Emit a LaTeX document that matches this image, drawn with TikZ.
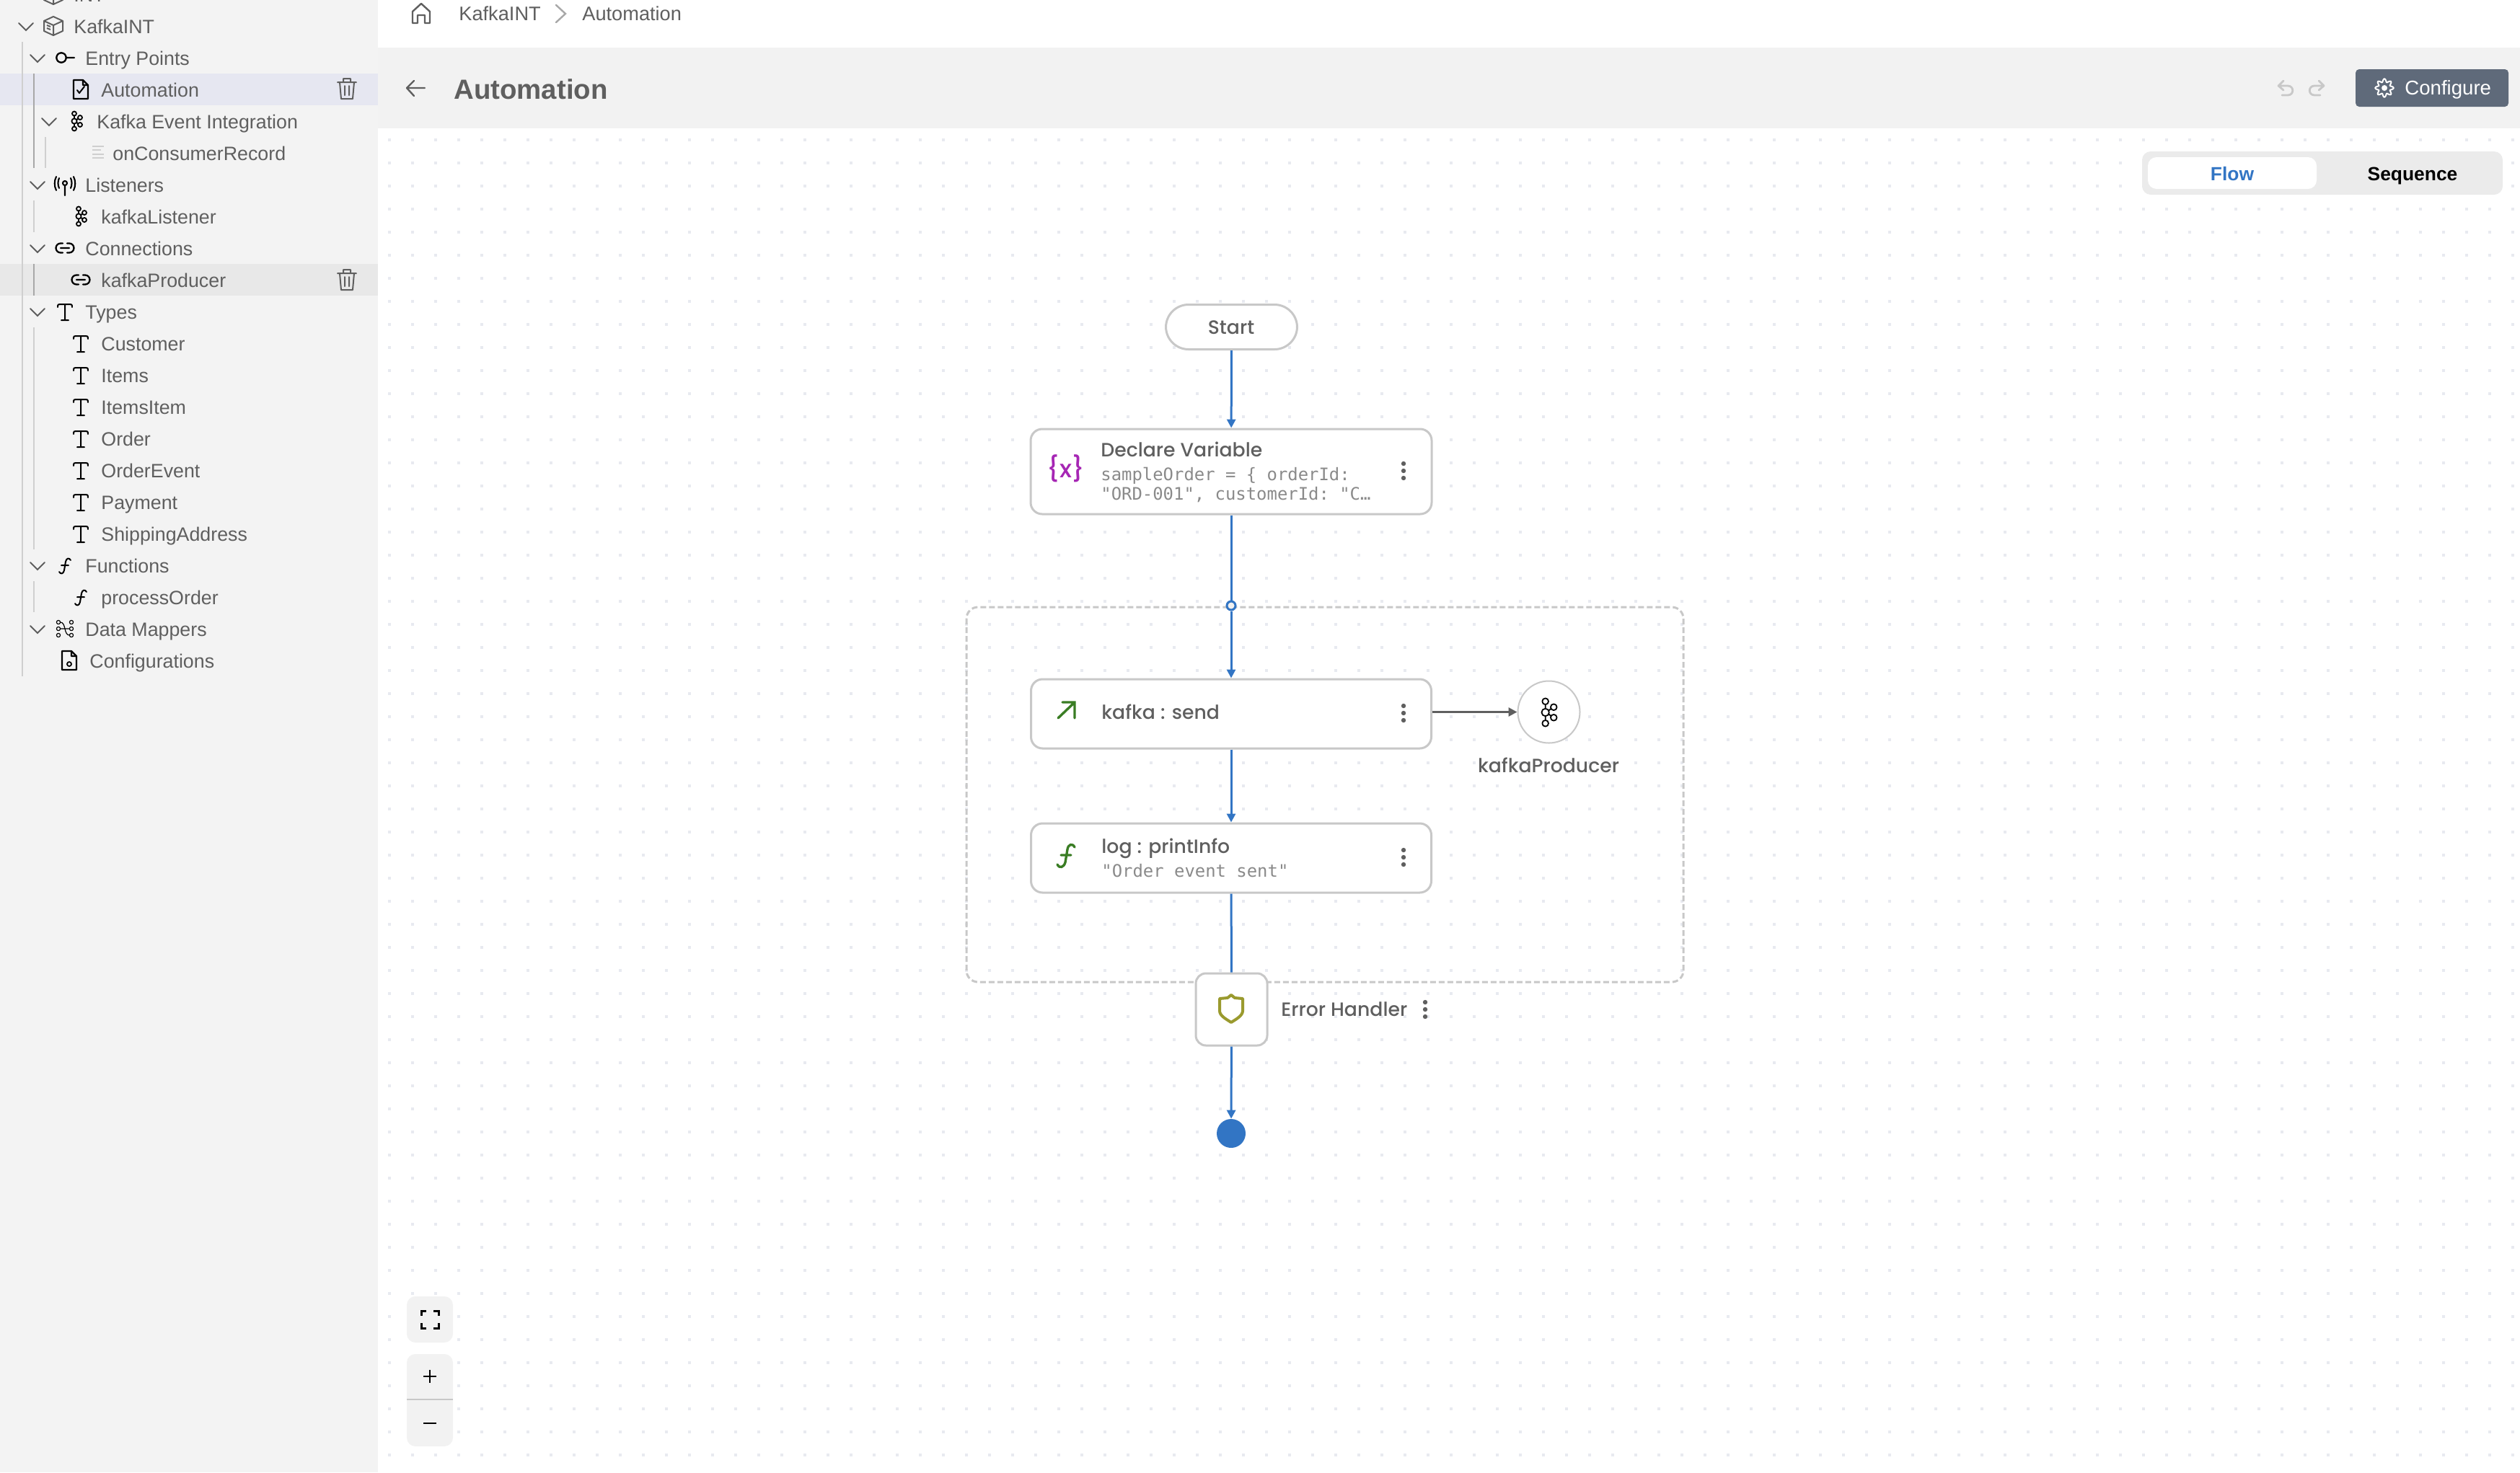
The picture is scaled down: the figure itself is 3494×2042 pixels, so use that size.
\documentclass[tikz,border=0pt]{standalone}
\usepackage{fontspec}
\setmainfont{Liberation Sans}
\setmonofont{DejaVu Sans Mono}
\newfontfamily\nodefont{Poppins}[UprightFont={* Medium}]
\usetikzlibrary{arrows.meta}
\definecolor{sidebg}{HTML}{F3F3F3}
\definecolor{bandbg}{HTML}{F2F2F2}
\definecolor{selrow}{HTML}{E6E7F1}
\definecolor{hovrow}{HTML}{E8E8E8}
\definecolor{guide}{HTML}{CFCFCF}
\definecolor{guidedark}{HTML}{A8A8A8}
\definecolor{txt}{HTML}{5F5F5F}
\definecolor{border}{HTML}{C8C8C8}
\definecolor{flowblue}{HTML}{3275C4}
\definecolor{dotc}{HTML}{E8EAF0}
\definecolor{slate}{HTML}{5F6A7A}
\definecolor{monoc}{HTML}{8A8A8A}
\definecolor{varpurple}{HTML}{A626B4}
\definecolor{fngreen}{HTML}{3A7D24}
\definecolor{shieldc}{HTML}{9A9A2E}
\tikzset{
  x=0.5pt,y=-0.5pt,
  sidetxt/.style={anchor=base west,inner sep=0pt,text=txt,font=\fontsize{13.4pt}{16pt}\selectfont},
  crumb/.style={anchor=base west,inner sep=0pt,text=txt,font=\fontsize{13.6pt}{16pt}\selectfont},
  nodetitle/.style={anchor=base west,inner sep=0pt,text=txt,font=\nodefont\fontsize{13.35pt}{16pt}\selectfont},
  monotxt/.style={anchor=base west,inner sep=0pt,text=monoc,font=\ttfamily\fontsize{11.95pt}{14pt}\selectfont},
  boxnode/.style={draw=border,fill=white,line width=1.5pt,rounded corners=8pt,inner sep=0pt,minimum width=277.5pt,minimum height=48pt},
  ic/.style={draw=black,line width=1.15pt,line cap=round,line join=round},
  chev/.style={draw=txt,line width=1pt,line cap=round},
  flowline/.style={draw=flowblue,line width=1.5pt},
  flowarrow/.style={flowline,-{Triangle[length=6pt,width=6pt]}},
  dotrow/.style={draw=dotc,line width=2pt,dash pattern=on 2pt off 14pt},
  kebab/.pic={\fill[txt] (0,-10) circle[radius=3.2] (0,0) circle[radius=3.2] (0,10) circle[radius=3.2];},
  chevicon/.pic={\draw[chev] (-10,-5) -- (0,5) -- (10,-5);},
  cubeicon/.pic={\draw[draw=txt,line width=1pt,line join=round] (0,-13) -- (13,-7) -- (13,7) -- (0,13) -- (-13,7) -- (-13,-7) -- cycle (-13,-7) -- (0,-1) -- (13,-7) (0,-1) -- (0,13) (-9,-1) -- (-4,1) (-9,3) -- (-4,5);},
  keyicon/.pic={\draw[ic] (-6,0) circle[radius=6.7] (1,0) -- (12,0);},
  fileicon/.pic={\draw[ic] (-9,-13) -- (3,-13) -- (10,-6) -- (10,13) -- (-10,13) -- (-10,-13) -- cycle (3,-13) -- (3,-6) -- (10,-6);},
  kafkaicon/.pic={\draw[ic,line width=0.9pt] (-3,-10.5) circle[radius=3] (-3,0) circle[radius=3.6] (-3,10.5) circle[radius=3] (5,-5) circle[radius=3] (5,5) circle[radius=3] (-3,-7.5) -- (-3,-3.6) (-3,3.6) -- (-3,7.5) (0.2,-1.6) -- (2.4,-3.6) (0.2,1.6) -- (2.4,3.6);},
  linesicon/.pic={\draw[draw=guide,line width=1pt] (-8,-8) -- (8,-8) (-8,-3) -- (4,-3) (-8,3) -- (8,3) (-8,8) -- (8,8);},
  antennaicon/.pic={\draw[ic,line width=1.05pt] (0,-3) circle[radius=3] (0,0) -- (0,14) (-8,-10) .. controls (-10,-6) and (-10,0) .. (-8,4) (8,-10) .. controls (10,-6) and (10,0) .. (8,4) (-12,-12) .. controls (-15,-6) and (-15,1) .. (-12,7) (12,-12) .. controls (15,-6) and (15,1) .. (12,7);},
  linkicon/.pic={\draw[ic] (-3,6.5) -- (-6,6.5) arc[start angle=90,end angle=270,radius=6.5] -- (-3,-6.5) (3,6.5) -- (6,6.5) arc[start angle=90,end angle=-90,radius=6.5] -- (3,-6.5) (-6,0) -- (6,0);},
  ticon/.pic={\draw[ic,line width=1pt] (-10,-6) .. controls (-10,-10) and (-9,-10) .. (-7,-10) -- (7,-10) .. controls (9,-10) and (10,-10) .. (10,-6) (0,-10) -- (0,12) (-5,12) -- (5,12);},
  fnicon/.pic={\draw[ic,line width=1pt] (-8,8) .. controls (-6,12) and (-2,11) .. (-1,6) -- (1,-6) .. controls (2,-11) and (6,-12) .. (8,-8) (-5,-1) -- (5,-1);},
  mapicon/.pic={\draw[ic,line width=0.6pt] (-9,-9) circle[radius=2.6] (-9,0) circle[radius=2.6] (-9,9) circle[radius=2.6] (9,-9) circle[radius=2.6] (9,0) circle[radius=2.6] (9,9) circle[radius=2.6] (-6.4,-9) .. controls (2,-9) and (-2,9) .. (6.4,9) (-6.4,0) -- (6.4,0);},
  trashicon/.pic={\draw[draw=txt,line width=1pt,line join=round,line cap=round] (-13,-9) -- (13,-9) (-5,-9) -- (-5,-14) -- (5,-14) -- (5,-9) (-10,-9) -- (-8,14) -- (8,14) -- (10,-9) (-3,-4) -- (-3,9) (3,-4) -- (3,9);}
}
\newcommand{\rowtext}[4]{\node[sidetxt] (#1) at (#2-1,#3+9) {#4};}
\begin{document}
\begin{tikzpicture}
\useasboundingbox (0,0) rectangle (3494,2042);
\clip (0,0) rectangle (3494,2042);
\fill[white] (0,0) rectangle (3494,2042);
% panels
\fill[sidebg] (0,0) rectangle (524,2042);
\fill[bandbg] (524,66) rectangle (3494,178);
\fill[selrow] (0,102) rectangle (524,146);
\fill[hovrow] (0,366) rectangle (524,410);
% canvas dots
\foreach \yy in {194,226,...,2042} {\draw[dotrow] (538,\yy) -- (3494,\yy);}
% sidebar guide lines
\draw[draw=guide,line width=1pt] (31,58) -- (31,938) (63,190) -- (63,233) (47,278) -- (47,322) (47,454) -- (47,762) (47,806) -- (47,849);
\draw[draw=guidedark,line width=1pt] (47,102) -- (47,233) (47,366) -- (47,410);
% sidebar chevrons
\foreach \cx/\cy in {36/-7,36/37,52/81,68/169,52/257,52/345,52/433,52/785,52/873} {\pic at (\cx,\cy) {chevicon};}
% sidebar icons
\pic at (74,-7) {cubeicon};
\pic at (74,36) {cubeicon};
\pic at (91,80) {keyicon};
\pic at (112,124) {fileicon};
\draw[ic,line width=1pt] (107,125) -- (110,129) -- (117,120);
\pic at (106,168) {kafkaicon};
\pic at (136,211) {linesicon};
\pic at (90,257) {antennaicon};
\pic at (112,300) {kafkaicon};
\pic at (90,344) {linkicon};
\pic at (112,388) {linkicon};
\pic at (90,432) {ticon};
\foreach \ty in {476,520,564,608,652,696,740} {\pic at (112,\ty) {ticon};}
\pic at (90,785) {fnicon};
\pic at (112,829) {fnicon};
\pic at (90,872) {mapicon};
\pic at (96,916) {fileicon};
\draw[ic,line width=0.9pt] (96,921) circle[radius=3];
\pic at (481,123) {trashicon};
\pic at (481,388) {trashicon};
% sidebar texts
\rowtext{rowint}{103}{-7}{INT}
\rowtext{rowkafkaint}{103}{37}{KafkaINT}
\rowtext{rowentry}{119}{81}{Entry Points}
\rowtext{rowauto}{141}{125}{Automation}
\rowtext{rowkei}{135}{169}{Kafka Event Integration}
\rowtext{rowocr}{157}{213}{onConsumerRecord}
\rowtext{rowlisten}{119}{257}{Listeners}
\rowtext{rowkl}{141}{301}{kafkaListener}
\rowtext{rowconn}{119}{345}{Connections}
\rowtext{rowkp}{141}{389}{kafkaProducer}
\rowtext{rowtypes}{119}{433}{Types}
\rowtext{rowcust}{141}{477}{Customer}
\rowtext{rowitems}{141}{521}{Items}
\rowtext{rowitemsitem}{141}{565}{ItemsItem}
\rowtext{roworder}{141}{609}{Order}
\rowtext{rowoe}{141}{653}{OrderEvent}
\rowtext{rowpay}{141}{697}{Payment}
\rowtext{rowship}{141}{741}{ShippingAddress}
\rowtext{rowfun}{119}{785}{Functions}
\rowtext{rowpo}{141}{829}{processOrder}
\rowtext{rowdm}{119}{873}{Data Mappers}
\rowtext{rowcfg}{125}{917}{Configurations}
% breadcrumb
\draw[draw=txt,line width=1.2pt,line join=round,line cap=round] (572,16) -- (584,5) -- (596,16) -- (596,32) -- (589,32) -- (589,21) -- (579,21) -- (579,32) -- (572,32) -- cycle;
\node[crumb] (crumbkafka) at (636,28) {KafkaINT};
\draw[draw=guidedark,line width=1.2pt,line cap=round] (771,7) -- (784,19) -- (771,31);
\node[crumb] (crumbauto) at (807,28) {Automation};
% title band
\draw[draw=txt,line width=1.2pt,line cap=round,line join=round] (589,122) -- (564,122) (574,112) -- (564,122) -- (574,133);
\node[anchor=base west,inner sep=0pt,text=txt,font=\bfseries\fontsize{19.2pt}{22pt}\selectfont] (titleauto) at (629,137) {Automation};
\draw[draw=border,line width=1.4pt,line cap=round,line join=round] (3166,112) -- (3159,119) -- (3166,125) (3159,119) -- (3172,119) .. controls (3181,119) and (3181,132) .. (3172,132) -- (3164,132);
\draw[draw=border,line width=1.4pt,line cap=round,line join=round] (3215,112) -- (3222,119) -- (3215,125) (3222,119) -- (3209,119) .. controls (3200,119) and (3200,132) .. (3209,132) -- (3217,132);
\fill[slate,rounded corners=2.5pt] (3266,96) rectangle (3478,148);
\draw[draw=white,line width=1pt,shift={(3306,122)},domain=0:360,samples=73,smooth] plot ({(10.5+2.2*cos(8*\x))*cos(\x)},{(10.5+2.2*cos(8*\x))*sin(\x)}) -- cycle;
\fill[white] (3306,122) circle[radius=4];
\node[anchor=base west,inner sep=0pt,text=white,font=\fontsize{13.8pt}{16pt}\selectfont] (configure) at (3334,131) {Configure};
% toggle
\fill[black!8,rounded corners=6pt] (2970,210) rectangle (3470,270);
\fill[white,rounded corners=6pt] (2978,218) rectangle (3212,262);
\node[anchor=base,inner sep=0pt,text=flowblue,font=\bfseries\fontsize{13.2pt}{16pt}\selectfont] (flowtab) at (3095,250) {Flow};
\node[anchor=base,inner sep=0pt,text=black,font=\bfseries\fontsize{13.2pt}{16pt}\selectfont] (seqtab) at (3345,250) {Sequence};
% try block
\draw[draw=border,line width=1.5pt,dash pattern=on 4pt off 2pt,rounded corners=8pt] (1340,842) rectangle (2334,1362);
% flow nodes
\node[boxnode,rounded corners=15.7pt,minimum width=91pt,minimum height=31pt] (startn) at (1707.5,453.5) {};
\node[anchor=base,inner sep=0pt,text=txt,font=\nodefont\fontsize{13.35pt}{16pt}\selectfont] (startlabel) at (1707,463) {Start};
\node[boxnode,minimum width=278pt,minimum height=59pt] (declare) at (1707,654) {};
\node[boxnode] (kafkasend) at (1707,990) {};
\node[boxnode] (logprint) at (1707,1190) {};
\node[boxnode,rounded corners=7pt,minimum width=49.5pt,minimum height=50pt] (errbox) at (1707.5,1400) {};
\node[circle,draw=flowblue,fill=black!6,line width=1.5pt,inner sep=0pt,minimum size=6pt] (junction) at (1707,840) {};
\node[circle,draw=border,fill=white,line width=1pt,inner sep=0pt,minimum size=43pt] (prodcircle) at (2147.5,987.5) {};
\node[circle,fill=flowblue,inner sep=0pt,minimum size=20pt] (endn) at (1707,1572) {};
% connectors
\draw[flowarrow] (startn) -- (declare);
\draw[flowline] (declare) -- (junction);
\draw[flowarrow] (junction) -- (kafkasend);
\draw[flowarrow] (kafkasend) -- (logprint);
\draw[flowline] (logprint) -- (errbox);
\draw[flowarrow] (errbox) -- (endn);
\draw[draw=txt,line width=1.5pt,-{Triangle[length=6pt,width=6pt]}] (kafkasend.east |- prodcircle) -- (prodcircle);
% node content
\node[anchor=center,inner sep=0pt,text=varpurple,font=\nodefont\fontsize{17pt}{20pt}\selectfont] (varicon) at (1478,650) {\{x\}};
\node[nodetitle] (declaretitle) at (1526,633) {Declare Variable};
\node[monotxt] (declareone) at (1526,666) {sampleOrder = \{ orderId:};
\node[monotxt] (declaretwo) at (1526,693) {"ORD-001", customerId: "C…};
\pic at (1946,653) {kebab};
\draw[draw=fngreen,line width=1.7pt,line cap=round] (1467,996) -- (1490,974) (1473,974) -- (1490,974) -- (1490,996);
\node[nodetitle] (kafkatitle) at (1527,997) {kafka : send};
\pic at (1946,989) {kebab};
\pic[scale=1.45] at (2147,988) {kafkaicon};
\node[nodetitle,anchor=base] (kplabel) at (2147,1071) {kafkaProducer};
\draw[draw=fngreen,line width=1.7pt,line cap=round,shift={(1478,1187)}] (-12,12) .. controls (-9,18) and (-3,16) .. (-1,9) -- (2,-9) .. controls (3,-16) and (9,-18) .. (12,-12) (-7,-1) -- (7,-1);
\node[nodetitle] (logtitle) at (1527,1183) {log : printInfo};
\node[monotxt] (logmono) at (1527,1216) {"Order event sent"};
\pic at (1946,1189) {kebab};
\draw[draw=shieldc,line width=2pt,line join=round,shift={(1707,1399)}] (0,-19) -- (-5,-15) -- (-16,-14) -- (-16,3) .. controls (-16,10) and (-6,15) .. (0,19) .. controls (6,15) and (16,10) .. (16,3) -- (16,-14) -- (5,-15) -- cycle;
\node[nodetitle] (errlabel) at (1776,1409) {Error Handler};
\pic at (1976,1400) {kebab};
% zoom controls
\fill[bandbg,rounded corners=6pt] (564,1798) rectangle (628,1862);
\fill[bandbg,rounded corners=6pt] (564,1878) rectangle (628,2006);
\draw[draw=border,line width=1pt] (564,1941) -- (628,1941);
\draw[draw=black,line width=1.5pt] (584,1825) -- (584,1818) -- (591,1818) (601,1818) -- (608,1818) -- (608,1825) (608,1835) -- (608,1842) -- (601,1842) (591,1842) -- (584,1842) -- (584,1835);
\draw[draw=black,line width=1.2pt] (587,1909) -- (605,1909) (596,1900) -- (596,1918) (587,1974) -- (605,1974);
\end{tikzpicture}
\end{document}
